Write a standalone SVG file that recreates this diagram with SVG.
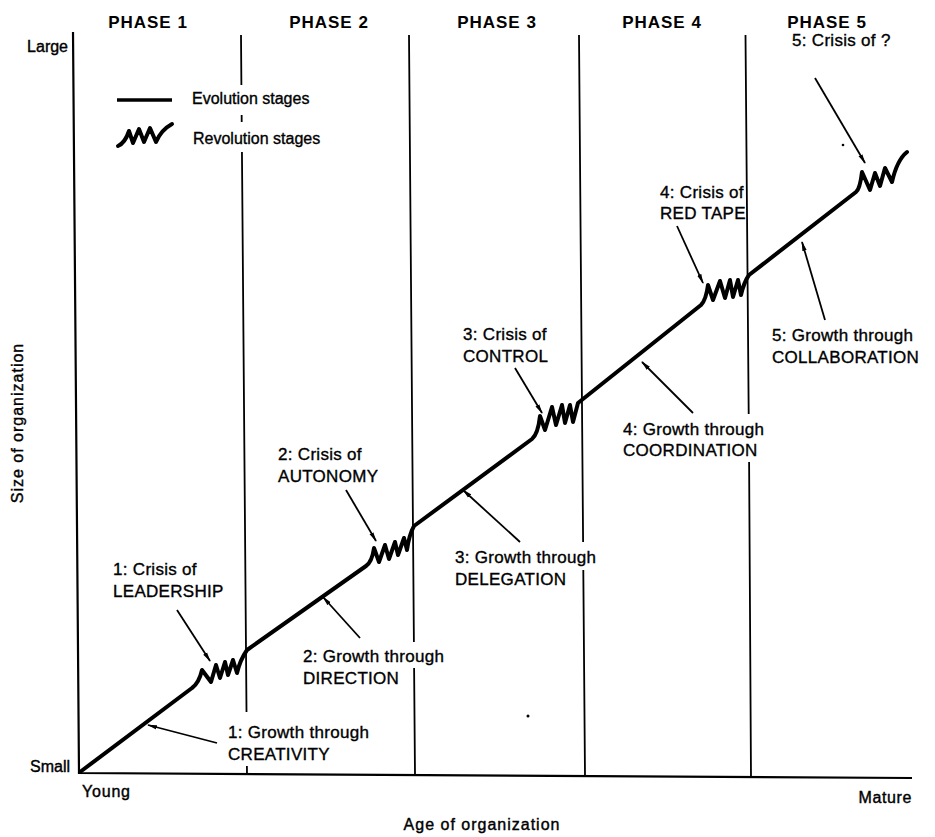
<svg xmlns="http://www.w3.org/2000/svg" width="935" height="837" viewBox="0 0 935 837">
  <style>
    text { font-family: "Liberation Sans", Arial, sans-serif; fill: #000; }
    .phase { font-size: 17px; font-weight: bold; letter-spacing: 1px; text-anchor: middle; }
    .lbl { font-size: 17px; letter-spacing: 0.3px; stroke: #000; stroke-width: 0.35px; }
    .ax { font-size: 16px; stroke: #000; stroke-width: 0.4px; }
    .leg { font-size: 16px; stroke: #000; stroke-width: 0.35px; }
    .frame { stroke: #000; stroke-width: 2.2; fill: none; }
    .grid { stroke: #000; stroke-width: 1.8; fill: none; }
    .curve { stroke: #000; stroke-width: 4; fill: none; stroke-linejoin: round; stroke-linecap: round; }
    .arrow { stroke: #000; stroke-width: 1.8; fill: none; marker-end: url(#tip); }
  </style>
  <defs>
    <marker id="tip" markerUnits="userSpaceOnUse" markerWidth="10" markerHeight="6" refX="9" refY="3" orient="auto">
      <path d="M0,0.8 L10,3 L0,5.2 z" fill="#000"/>
    </marker>
  </defs>
  <rect width="935" height="837" fill="#fff"/>

  <!-- phase headings -->
  <g id="phase-labels">
    <text class="phase" x="148" y="28">PHASE 1</text>
    <text class="phase" x="329" y="28">PHASE 2</text>
    <text class="phase" x="497" y="28">PHASE 3</text>
    <text class="phase" x="662" y="28">PHASE 4</text>
    <text class="phase" x="827" y="28">PHASE 5</text>
  </g>

  <!-- axes -->
  <g id="axes">
    <path class="frame" d="M73,32 L79,773 L912,778"/>
    <text class="ax" x="68" y="52" text-anchor="end" font-size="15">Large</text>
    <text class="ax" x="70" y="772" text-anchor="end">Small</text>
    <text class="ax" x="82" y="797" letter-spacing="0.8">Young</text>
    <text class="ax" x="912" y="803" text-anchor="end" letter-spacing="0.6">Mature</text>
    <text class="ax" x="482" y="830" text-anchor="middle" letter-spacing="1">Age of organization</text>
    <text class="ax" transform="translate(23,423) rotate(-90)" text-anchor="middle" letter-spacing="1">Size of organization</text>
  </g>

  <!-- phase boundaries, broken where labels cross them -->
  <g id="phase-lines">
    <path class="grid" d="M241,35 L241.4,85 M241.65,115 L241.7,122 M241.95,152 L246.5,712 M246.9,766 L247,774"/>
    <path class="grid" d="M409,35 L413.9,642 M414.1,668 L415,775"/>
    <path class="grid" d="M579,35 L583.1,542 M583.3,570 L585,776"/>
    <path class="grid" d="M745.5,35 L748.7,414 M749.1,462 L751,777"/>
  </g>

  <!-- legend -->
  <g id="legend">
    <line x1="117" y1="100" x2="172" y2="100" stroke="#000" stroke-width="3.5"/>
    <text class="leg" x="192" y="104">Evolution stages</text>
    <path class="curve" stroke-width="3.2" d="M118,146 Q125,143 129,131 L133,143 L139,129 L144,142 L150,128 L156,142 Q161,130 172,124"/>
    <text class="leg" x="193" y="144">Revolution stages</text>
  </g>

  <!-- growth curve: evolution segments joined by revolution zigzags -->
  <g id="growth-curve">
    <path class="curve" d="M80,772 L192,688 Q199,683 202,670 L211,682 L216,665 L220,678 L225,662 L228,675 L233,660 L237,673 Q240,660 247,650
      L366,566 Q372,562 374,548 L379,562 L385,545 L389,559 L395,542 L398,555 L404,538 L407,550 Q409,535 414,526
      L532,439 Q538,434 540,416 L545,430 L552,407 L556,425 L562,405 L565,423 L570,405 L573,422 L578,403 L583,399
      L701,305 Q706,300 708,285 L713,300 L720,281 L725,298 L730,280 L733,297 L738,280 L741,295 Q744,282 749,275
      L856,192 Q860,189 862,172 L870,190 L875,173 L880,186 L885,168 L892,182 Q897,160 907,152"/>
  </g>

  <!-- stage labels -->
  <g id="crisis-1">
    <text class="lbl" x="113" y="575">1: Crisis of</text>
    <text class="lbl" x="113" y="597">LEADERSHIP</text>
  </g>
  <g id="growth-1">
    <text class="lbl" x="228" y="738">1: Growth through</text>
    <text class="lbl" x="228" y="760" letter-spacing="1.2">CREATIVITY</text>
  </g>
  <g id="crisis-2">
    <text class="lbl" x="278" y="460">2: Crisis of</text>
    <text class="lbl" x="278" y="482">AUTONOMY</text>
  </g>
  <g id="growth-2">
    <text class="lbl" x="303" y="662">2: Growth through</text>
    <text class="lbl" x="303" y="684">DIRECTION</text>
  </g>
  <g id="crisis-3">
    <text class="lbl" x="463" y="340">3: Crisis of</text>
    <text class="lbl" x="463" y="362">CONTROL</text>
  </g>
  <g id="growth-3">
    <text class="lbl" x="455" y="563">3: Growth through</text>
    <text class="lbl" x="455" y="585">DELEGATION</text>
  </g>
  <g id="crisis-4">
    <text class="lbl" x="660" y="198">4: Crisis of</text>
    <text class="lbl" x="660" y="219">RED TAPE</text>
  </g>
  <g id="growth-4">
    <text class="lbl" x="623" y="435">4: Growth through</text>
    <text class="lbl" x="623" y="456">COORDINATION</text>
  </g>
  <g id="crisis-5">
    <text class="lbl" x="792" y="46">5: Crisis of ?</text>
  </g>
  <g id="growth-5">
    <text class="lbl" x="772" y="341">5: Growth through</text>
    <text class="lbl" x="772" y="363">COLLABORATION</text>
  </g>

  <!-- pointers from labels to the curve -->
  <g id="connectors">
    <line class="arrow" x1="217" y1="743" x2="148" y2="725"/>
    <line class="arrow" x1="177" y1="610" x2="210" y2="661"/>
    <line class="arrow" x1="360" y1="638" x2="323" y2="597"/>
    <line class="arrow" x1="346" y1="490" x2="376" y2="541"/>
    <line class="arrow" x1="520" y1="542" x2="463" y2="490"/>
    <line class="arrow" x1="515" y1="368" x2="542" y2="413"/>
    <line class="arrow" x1="693" y1="413" x2="642" y2="362"/>
    <line class="arrow" x1="677" y1="226" x2="703" y2="283"/>
    <line class="arrow" x1="825" y1="320" x2="802" y2="242"/>
    <line class="arrow" x1="815" y1="78" x2="865" y2="163"/>
  </g>

  <!-- specks -->
  <circle cx="843" cy="145" r="1.3" fill="#000"/>
  <circle cx="528" cy="716" r="1.5" fill="#000"/>
</svg>
